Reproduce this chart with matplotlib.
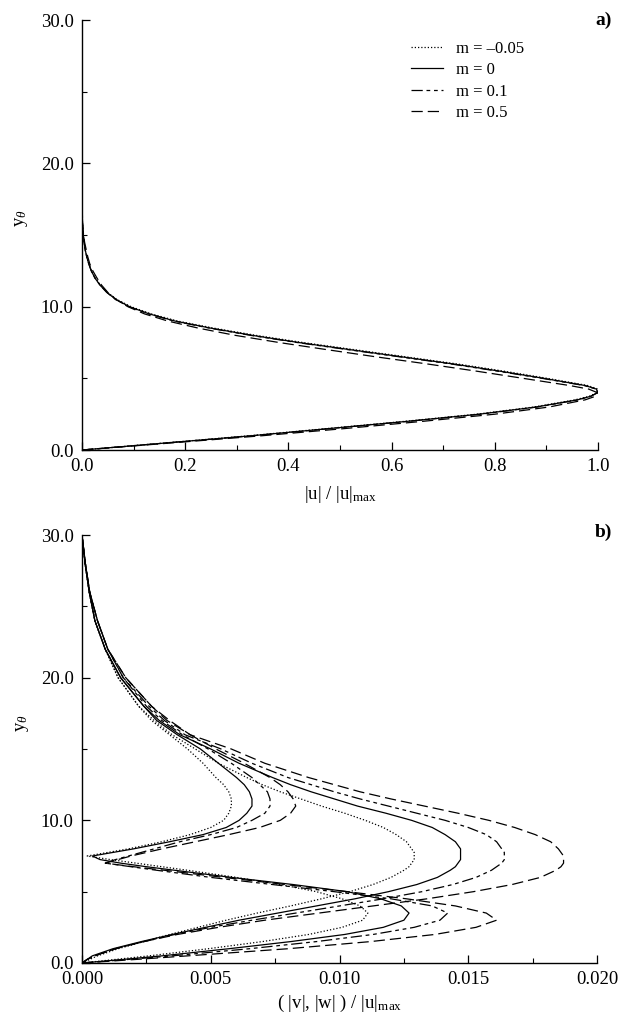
import matplotlib
matplotlib.use("Agg")
import matplotlib.pyplot as plt
from matplotlib.ticker import MultipleLocator, FormatStrFormatter


# ══════════════════════════════════════════════════════════════════════════════
# DATA
# ══════════════════════════════════════════════════════════════════════════════

labels = ["m = \u20130.05", "m = 0", "m = 0.1", "m = 0.5"]

# a) streamwise amplitude |u| / |u|max against y_theta
y_top = [0, 0.5, 1, 1.5, 2, 2.5, 3, 3.5, 3.75, 4, 4.25, 4.5, 5, 5.5, 6, 6.5, 7, 7.5,
         8, 8.5, 9, 9.5, 10, 10.5, 11, 11.5, 12, 12.5, 13, 13.5, 14, 14.5, 15, 15.5,
         16, 17, 20, 30]

u_m005 = [0, 0.163, 0.325, 0.475, 0.625, 0.765, 0.875, 0.955, 0.983, 0.998, 1.0, 0.98,
          0.902, 0.818, 0.728, 0.628, 0.528, 0.428, 0.337, 0.256, 0.185, 0.134, 0.095,
          0.068, 0.049, 0.036, 0.026, 0.018, 0.013, 0.009, 0.006, 0.004, 0.0025, 0.0015,
          0.0008, 0.0002, 0, 0]
u_m0   = [0, 0.165, 0.33, 0.48, 0.63, 0.77, 0.88, 0.96, 0.986, 0.999, 0.997, 0.975,
          0.895, 0.81, 0.72, 0.62, 0.52, 0.42, 0.33, 0.25, 0.18, 0.13, 0.092,
          0.066, 0.048, 0.035, 0.025, 0.018, 0.013, 0.009, 0.006, 0.004, 0.0025, 0.0015,
          0.0008, 0.0002, 0, 0]
u_m01  = [0, 0.166, 0.332, 0.482, 0.632, 0.772, 0.882, 0.961, 0.986, 0.999, 0.997, 0.973,
          0.892, 0.806, 0.716, 0.616, 0.516, 0.417, 0.327, 0.248, 0.178, 0.129, 0.091,
          0.065, 0.048, 0.035, 0.025, 0.018, 0.013, 0.009, 0.006, 0.004, 0.0025, 0.0015,
          0.0008, 0.0002, 0, 0]
u_m05  = [0, 0.175, 0.35, 0.51, 0.66, 0.80, 0.905, 0.975, 0.995, 0.999, 0.982, 0.945,
          0.855, 0.765, 0.67, 0.57, 0.475, 0.382, 0.297, 0.226, 0.166, 0.121, 0.089,
          0.066, 0.050, 0.038, 0.029, 0.021, 0.015, 0.011, 0.008, 0.005, 0.003, 0.0018,
          0.001, 0.0003, 0, 0]

# b) wall-normal / spanwise amplitudes (|v|, |w|) / |u|max against y_theta
y_bot = [0, 0.25, 0.5, 1, 1.5, 2, 2.5, 3, 3.5, 4, 4.5, 5, 5.5, 6, 6.5, 6.75, 7, 7.25,
         7.5, 7.75, 8, 8.5, 9, 9.5, 10, 10.5, 11, 11.5, 12, 12.5, 13, 14, 15, 16, 17,
         18, 20, 22, 24, 26, 28, 30]

v_m005 = [0, 0.0013, 0.0026, 0.0049, 0.0070, 0.0088, 0.0101, 0.0109, 0.0111, 0.0108,
          0.0101, 0.0091, 0.0077, 0.0060, 0.0041, 0.0031, 0.0021, 0.0011, 0.0002, 0.0010,
          0.0018, 0.0031, 0.0042, 0.0050, 0.0055, 0.0057, 0.0058, 0.0058, 0.0057, 0.0055,
          0.0052, 0.0047, 0.0041, 0.0034, 0.0027, 0.0022, 0.0014, 0.0009, 0.0005, 0.00028,
          0.00012, 0]
w_m005 = [0, 0.0003, 0.0006, 0.0014, 0.0024, 0.0034, 0.0045, 0.0056, 0.0068, 0.0081,
          0.0093, 0.0104, 0.0113, 0.0120, 0.0125, 0.0127, 0.0128, 0.0129, 0.0129, 0.0129,
          0.0128, 0.0126, 0.0122, 0.0117, 0.0110, 0.0102, 0.0093, 0.0085, 0.0077, 0.0070,
          0.0064, 0.0053, 0.0044, 0.0035, 0.0028, 0.0022, 0.0014, 0.0009, 0.0005, 0.00028,
          0.00012, 0]

v_m0   = [0, 0.0016, 0.0031, 0.0057, 0.0081, 0.0102, 0.0117, 0.0125, 0.0127, 0.0124,
          0.0116, 0.0103, 0.0082, 0.0058, 0.0036, 0.0025, 0.0015, 0.0007, 0.0004, 0.0012,
          0.0020, 0.0034, 0.0047, 0.0056, 0.0061, 0.0064, 0.0066, 0.0066, 0.0065, 0.0063,
          0.0060, 0.0053, 0.0046, 0.0037, 0.0029, 0.0024, 0.0015, 0.0009, 0.0005, 0.00028,
          0.00012, 0]
w_m0   = [0, 0.0002, 0.0004, 0.0012, 0.0023, 0.0035, 0.0048, 0.0061, 0.0076, 0.0091,
          0.0106, 0.0119, 0.0130, 0.0138, 0.0143, 0.0145, 0.0146, 0.0147, 0.0147, 0.0147,
          0.0147, 0.0145, 0.0141, 0.0136, 0.0128, 0.0118, 0.0107, 0.0098, 0.0089, 0.0081,
          0.0074, 0.0061, 0.0050, 0.0038, 0.0030, 0.0024, 0.0015, 0.0009, 0.0005, 0.00028,
          0.00012, 0]

v_m01  = [0, 0.0018, 0.0035, 0.0065, 0.0091, 0.0113, 0.0129, 0.0139, 0.0142, 0.0136,
          0.0120, 0.0098, 0.0074, 0.0050, 0.0029, 0.0019, 0.0009, 0.0013, 0.0018, 0.0023,
          0.0028, 0.0038, 0.0050, 0.0060, 0.0066, 0.0071, 0.0073, 0.0073, 0.0072, 0.0069,
          0.0066, 0.0058, 0.0049, 0.0039, 0.0031, 0.0025, 0.0016, 0.0010, 0.0006, 0.0003,
          0.00013, 0]
w_m01  = [0, 0.0002, 0.0005, 0.0013, 0.0024, 0.0036, 0.0050, 0.0066, 0.0083, 0.0100,
          0.0117, 0.0132, 0.0144, 0.0153, 0.0159, 0.0161, 0.0163, 0.0164, 0.0164, 0.0164,
          0.0163, 0.0161, 0.0157, 0.0150, 0.0141, 0.0130, 0.0119, 0.0108, 0.0098, 0.0089,
          0.0080, 0.0066, 0.0054, 0.0040, 0.0032, 0.0026, 0.0016, 0.0010, 0.0006, 0.0003,
          0.00013, 0]

v_m05  = [0, 0.0021, 0.0041, 0.0080, 0.0112, 0.0137, 0.0153, 0.0161, 0.0157, 0.0145,
          0.0126, 0.0103, 0.0079, 0.0055, 0.0032, 0.0020, 0.0009, 0.0014, 0.0019, 0.0025,
          0.0031, 0.0044, 0.0057, 0.0069, 0.0077, 0.0081, 0.0083, 0.0082, 0.0080, 0.0077,
          0.0073, 0.0063, 0.0052, 0.0042, 0.0033, 0.0027, 0.0017, 0.0010, 0.0006, 0.0003,
          0.00013, 0]
w_m05  = [0, 0.0002, 0.0005, 0.0013, 0.0024, 0.0037, 0.0053, 0.0071, 0.0092, 0.0113,
          0.0134, 0.0152, 0.0167, 0.0178, 0.0184, 0.0186, 0.0187, 0.0187, 0.0187, 0.0186,
          0.0185, 0.0182, 0.0176, 0.0168, 0.0158, 0.0146, 0.0133, 0.0120, 0.0108, 0.0098,
          0.0088, 0.0071, 0.0058, 0.0042, 0.0034, 0.0027, 0.0017, 0.0010, 0.0006, 0.0003,
          0.00013, 0]


# ══════════════════════════════════════════════════════════════════════════════
# STYLE
# ══════════════════════════════════════════════════════════════════════════════

plt.rcParams["font.family"]      = ["Liberation Serif", "DejaVu Serif"]
plt.rcParams["mathtext.fontset"] = "custom"
plt.rcParams["mathtext.rm"]      = "Liberation Serif"
plt.rcParams["mathtext.it"]      = "Liberation Serif:italic"

styles = [(0, (1, 1.6)),                 # dotted
          "-",                           # solid
          (0, (9, 3, 3, 3, 3, 3)),       # dash-dot-dot
          (0, (9, 4))]                   # dashed
LW = 0.9
TICK_FS = 13.5


def style_axis(ax, xmax, xmajor, xminor, xfmt):
    for side in ("top", "right"):
        ax.spines[side].set_visible(False)
    for side in ("left", "bottom"):
        ax.spines[side].set_linewidth(1.0)
    ax.set_xlim(0, xmax)
    ax.set_ylim(0, 30)
    ax.xaxis.set_major_locator(MultipleLocator(xmajor))
    ax.xaxis.set_minor_locator(MultipleLocator(xminor))
    ax.yaxis.set_major_locator(MultipleLocator(10))
    ax.yaxis.set_minor_locator(MultipleLocator(5))
    ax.xaxis.set_major_formatter(FormatStrFormatter(xfmt))
    ax.yaxis.set_major_formatter(FormatStrFormatter("%.1f"))
    ax.tick_params(which="major", direction="in", length=6, width=0.9,
                   labelsize=TICK_FS, top=False, right=False, pad=6)
    ax.tick_params(which="minor", direction="in", length=3.5, width=0.8,
                   top=False, right=False)


# ══════════════════════════════════════════════════════════════════════════════
# FIGURE
# ══════════════════════════════════════════════════════════════════════════════

fig = plt.figure(figsize=(6.27, 10.17), dpi=100)
ax_a = fig.add_axes([0.1308, 0.5575, 0.8230, 0.4228])
ax_b = fig.add_axes([0.1308, 0.0531, 0.8214, 0.4208])

# a)
u_sets = [u_m005, u_m0, u_m01, u_m05]
for xs, ls, lab in zip(u_sets, styles, labels):
    ax_a.plot(xs, y_top, color="black", lw=LW, linestyle=ls, label=lab)

style_axis(ax_a, 1.0, 0.2, 0.1, "%.1f")
ax_a.set_xlabel(r"|u| / |u|$_{\mathrm{max}}$", fontsize=TICK_FS, labelpad=6)
ax_a.set_ylabel(r"y$_{\theta}$", fontsize=TICK_FS)
ax_a.yaxis.set_label_coords(-0.10, 0.54)
ax_a.text(1.027, 1.0, "a)", transform=ax_a.transAxes, fontsize=14,
          fontweight="bold", ha="right", va="center")

ax_a.legend(loc="upper left", bbox_to_anchor=(0.614, 0.979), frameon=False,
            fontsize=12, handlelength=1.95, handletextpad=0.8,
            labelspacing=0.33, borderpad=0.2)

# b)
vw_sets = [(v_m005, w_m005), (v_m0, w_m0), (v_m01, w_m01), (v_m05, w_m05)]
for (vs, ws), ls in zip(vw_sets, styles):
    ax_b.plot(vs, y_bot, color="black", lw=LW, linestyle=ls)
    ax_b.plot(ws, y_bot, color="black", lw=LW, linestyle=ls)

style_axis(ax_b, 0.020, 0.005, 0.0025, "%.3f")
ax_b.set_xlabel(r"( |v|, |w| ) / |u|$_{\mathrm{max}}$", fontsize=TICK_FS, labelpad=3)
ax_b.set_ylabel(r"y$_{\theta}$", fontsize=TICK_FS)
ax_b.yaxis.set_label_coords(-0.10, 0.56)
ax_b.text(1.029, 1.007, "b)", transform=ax_b.transAxes, fontsize=14,
          fontweight="bold", ha="right", va="center")

fig.savefig("out.png", dpi=100)
